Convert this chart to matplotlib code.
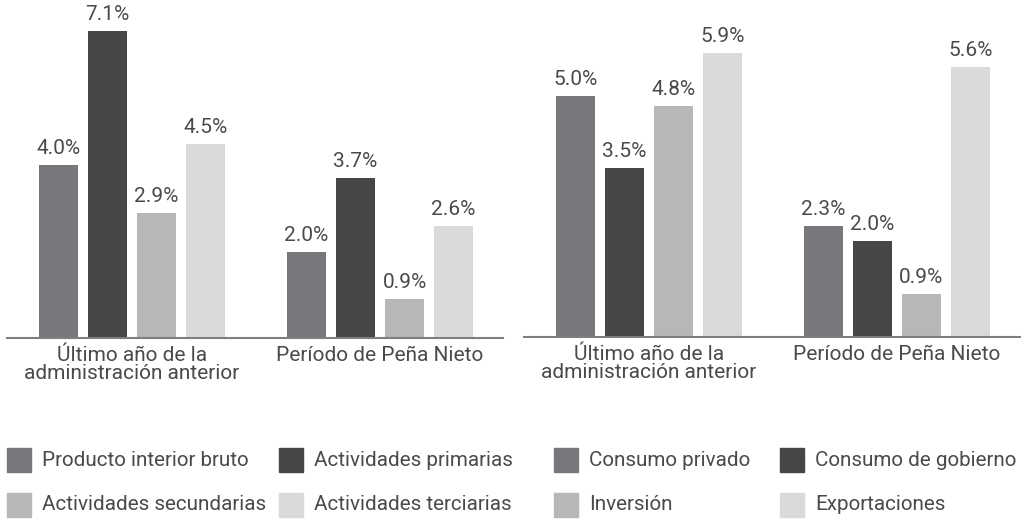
import matplotlib
matplotlib.use("Agg")
import matplotlib.pyplot as plt
from matplotlib.patches import Rectangle

plt.rcParams['font.family'] = ['Roboto', 'DejaVu Sans']

categories = ["Último año de la\nadministración anterior", "Período de Peña Nieto"]

left_series = ["Producto interior bruto", "Actividades primarias",
               "Actividades secundarias", "Actividades terciarias"]
left_values = [[4.0, 2.0], [7.1, 3.7], [2.9, 0.9], [4.5, 2.6]]

right_series = ["Consumo privado", "Consumo de gobierno", "Inversión", "Exportaciones"]
right_values = [[5.0, 2.3], [3.5, 2.0], [4.8, 0.9], [5.9, 5.6]]

colors = ["#77787b", "#464648", "#b6b7b9", "#d9dadc"]
text_color = "#4a4a4c"
axis_color = "#7f7f7f"
FS = 15.0

W, H = 1026, 520
fig = plt.figure(figsize=(W / 100, H / 100), dpi=100)


def panel(x0, x1, base_y, ymax, series, values, legend_x):
    ax = fig.add_axes([x0 / W, (H - base_y) / H, (x1 - x0) / W, base_y / H])
    pitch = 49 / 248
    width = 39 / 248
    n = len(series)
    for i, (name, vals) in enumerate(zip(series, values)):
        xs = [g + (i - (n - 1) / 2) * pitch for g in range(len(categories))]
        bars = ax.bar(xs, vals, width=width, color=colors[i], label=name)
        ax.bar_label(bars, labels=[f"{v:.1f}%" for v in vals], padding=5,
                     fontsize=FS, color=text_color)
    ax.set_xlim(-125 / 248, 1 + 123 / 248)
    ax.set_ylim(0, ymax)
    for s in ["left", "right", "top"]:
        ax.spines[s].set_visible(False)
    ax.spines["bottom"].set_color(axis_color)
    ax.spines["bottom"].set_linewidth(1.5)
    ax.set_yticks([])
    ax.set_xticks(range(len(categories)))
    ax.set_xticklabels(categories, fontsize=FS, color=text_color, linespacing=0.95)
    ax.tick_params(axis="x", length=0, pad=5.5)
    ax.patch.set_alpha(0)

    # legend (2 columns x 2 rows)
    row_y = [460, 505]
    for i, name in enumerate(series):
        col, row = i % 2, i // 2
        sx = legend_x[col]
        cy = row_y[row]
        fig.patches.append(Rectangle((sx / W, (H - cy - 12) / H), 24 / W, 24 / H,
                                     transform=fig.transFigure, color=colors[i]))
        fig.text((sx + 35) / W, (H - cy) / H, name, fontsize=14.9, color=text_color,
                 va="center", ha="left")
    return ax


panel(7, 503, 338, 338 / 43.2, left_series, left_values, [7, 279])
panel(524, 1020, 337, 337 / 48.2, right_series, right_values, [554, 780])

fig.savefig("out.png", dpi=100, facecolor="white")
